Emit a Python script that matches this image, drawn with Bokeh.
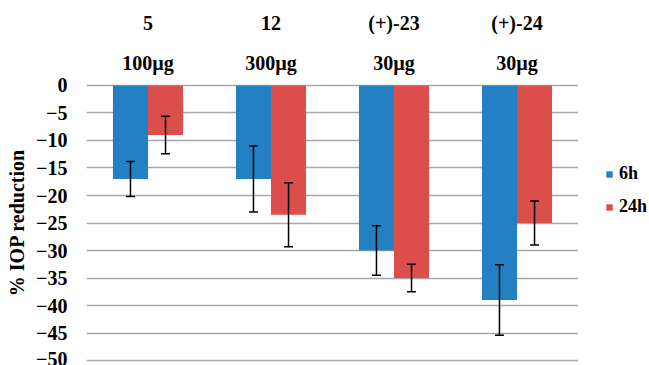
from bokeh.plotting import figure
from bokeh.layouts import row
from bokeh.models import (ColumnDataSource, FactorRange, Range1d, FixedTicker,
                          CategoricalAxis, Legend, LegendItem)
from bokeh.transform import dodge
from bokeh.embed import file_html
from bokeh.resources import INLINE

compounds = ["5", "12", "(+)-23", "(+)-24"]
doses = ["100µg", "300µg", "30µg", "30µg"]
series_names = ["6h", "24h"]
values_6h = [-17, -17, -30, -39]
err_6h = [3.2, 6.0, 4.5, 6.4]
values_24h = [-9, -23.5, -35, -25]
err_24h = [3.4, 5.8, 2.5, 4.0]
y_ticks = [0, -5, -10, -15, -20, -25, -30, -35, -40, -45, -50]

FONT = "Liberation Serif"
BLUE = "#2380c3"
RED = "#dc4e4c"
BW = 0.285

src = ColumnDataSource(dict(
    cat=compounds,
    v6=values_6h, lo6=[v - e for v, e in zip(values_6h, err_6h)], hi6=[v + e for v, e in zip(values_6h, err_6h)],
    v24=values_24h, lo24=[v - e for v, e in zip(values_24h, err_24h)], hi24=[v + e for v, e in zip(values_24h, err_24h)],
))

p = figure(width=578, height=365, output_backend="svg", toolbar_location=None,
           x_range=FactorRange(*compounds, range_padding=0),
           y_range=Range1d(-50.545, 0.727),
           min_border_left=86, min_border_right=0, min_border_top=81, min_border_bottom=2)
p.outline_line_color = None
p.background_fill_color = "white"
p.border_fill_color = "white"

p.xaxis.visible = False
p.xgrid.grid_line_color = None
p.ygrid.grid_line_color = "#a8a8a8"
p.ygrid.grid_line_width = 1.6
p.ygrid.ticker = FixedTicker(ticks=y_ticks)

ya = p.yaxis[0]
ya.ticker = FixedTicker(ticks=y_ticks)
ya.axis_line_color = None
ya.major_tick_line_color = None
ya.minor_tick_line_color = None
ya.major_tick_out = 0
ya.major_tick_in = 0
ya.minor_tick_out = 0
ya.major_label_text_font = FONT
ya.major_label_text_font_style = "bold"
ya.major_label_text_font_size = "20px"
ya.major_label_text_color = "black"
ya.major_label_standoff = 19
ya.axis_label = "% IOP reduction"
ya.axis_label_text_font = FONT
ya.axis_label_text_font_style = "bold"
ya.axis_label_text_font_size = "20px"
ya.axis_label_text_color = "black"
ya.axis_label_standoff = 5

off = BW / 2
p.vbar(x=dodge("cat", -off, range=p.x_range), top="v6", bottom=0, width=BW,
       source=src, fill_color=BLUE, line_color=None)
p.vbar(x=dodge("cat", off, range=p.x_range), top="v24", bottom=0, width=BW,
       source=src, fill_color=RED, line_color=None)

for o, lo, hi in [(-off, "lo6", "hi6"), (off, "lo24", "hi24")]:
    p.segment(x0=dodge("cat", o, range=p.x_range), y0=lo,
              x1=dodge("cat", o, range=p.x_range), y1=hi,
              source=src, line_color="black", line_width=1.5)
    for f in (lo, hi):
        p.scatter(x=dodge("cat", o, range=p.x_range), y=f, marker="dash", size=9,
                  source=src, line_color="black", line_width=1.5)

# dose labels need unique factors: the repeated "30µg" gets a zero-width suffix
dose_factors = []
for d in doses:
    while d in dose_factors:
        d = d + "\u200b"
    dose_factors.append(d)
p.extra_x_ranges = {"dose": FactorRange(*dose_factors, range_padding=0)}


def top_axis(standoff, **kw):
    ax = CategoricalAxis(**kw)
    ax.axis_line_color = None
    ax.major_tick_line_color = None
    ax.minor_tick_line_color = None
    ax.major_tick_out = 0
    ax.major_tick_in = 0
    ax.major_label_text_font = FONT
    ax.major_label_text_font_style = "bold"
    ax.major_label_text_font_size = "20px"
    ax.major_label_text_color = "black"
    ax.major_label_standoff = standoff
    return ax


p.add_layout(top_axis(8, x_range_name="dose"), "above")
p.add_layout(top_axis(15), "above")

# legend panel (separate small figure to the right)
q = figure(width=71, height=365, output_backend="svg", toolbar_location=None,
           x_range=Range1d(0, 71), y_range=Range1d(0, 365),
           min_border=0)
q.axis.visible = False
q.grid.visible = False
q.outline_line_color = None
q.border_fill_color = "white"
# zero-size proxies that only carry the legend swatch styles
l6 = q.vbar(x=[0], top=[0], bottom=[0], width=0, fill_color=BLUE, line_color=None)
l24 = q.vbar(x=[0], top=[0], bottom=[0], width=0, fill_color=RED, line_color=None)
legend = Legend(items=[LegendItem(label=series_names[0], renderers=[l6]),
                       LegendItem(label=series_names[1], renderers=[l24])],
                location=(27, 146), orientation="vertical",
                glyph_width=8, glyph_height=8, label_height=20, spacing=12,
                label_standoff=6, padding=0, margin=0,
                border_line_color=None, background_fill_alpha=0,
                label_text_font=FONT, label_text_font_style="bold",
                label_text_font_size="18px", label_text_color="black")
q.add_layout(legend, "center")

open("out.html", "w").write(file_html(row(p, q), INLINE))
